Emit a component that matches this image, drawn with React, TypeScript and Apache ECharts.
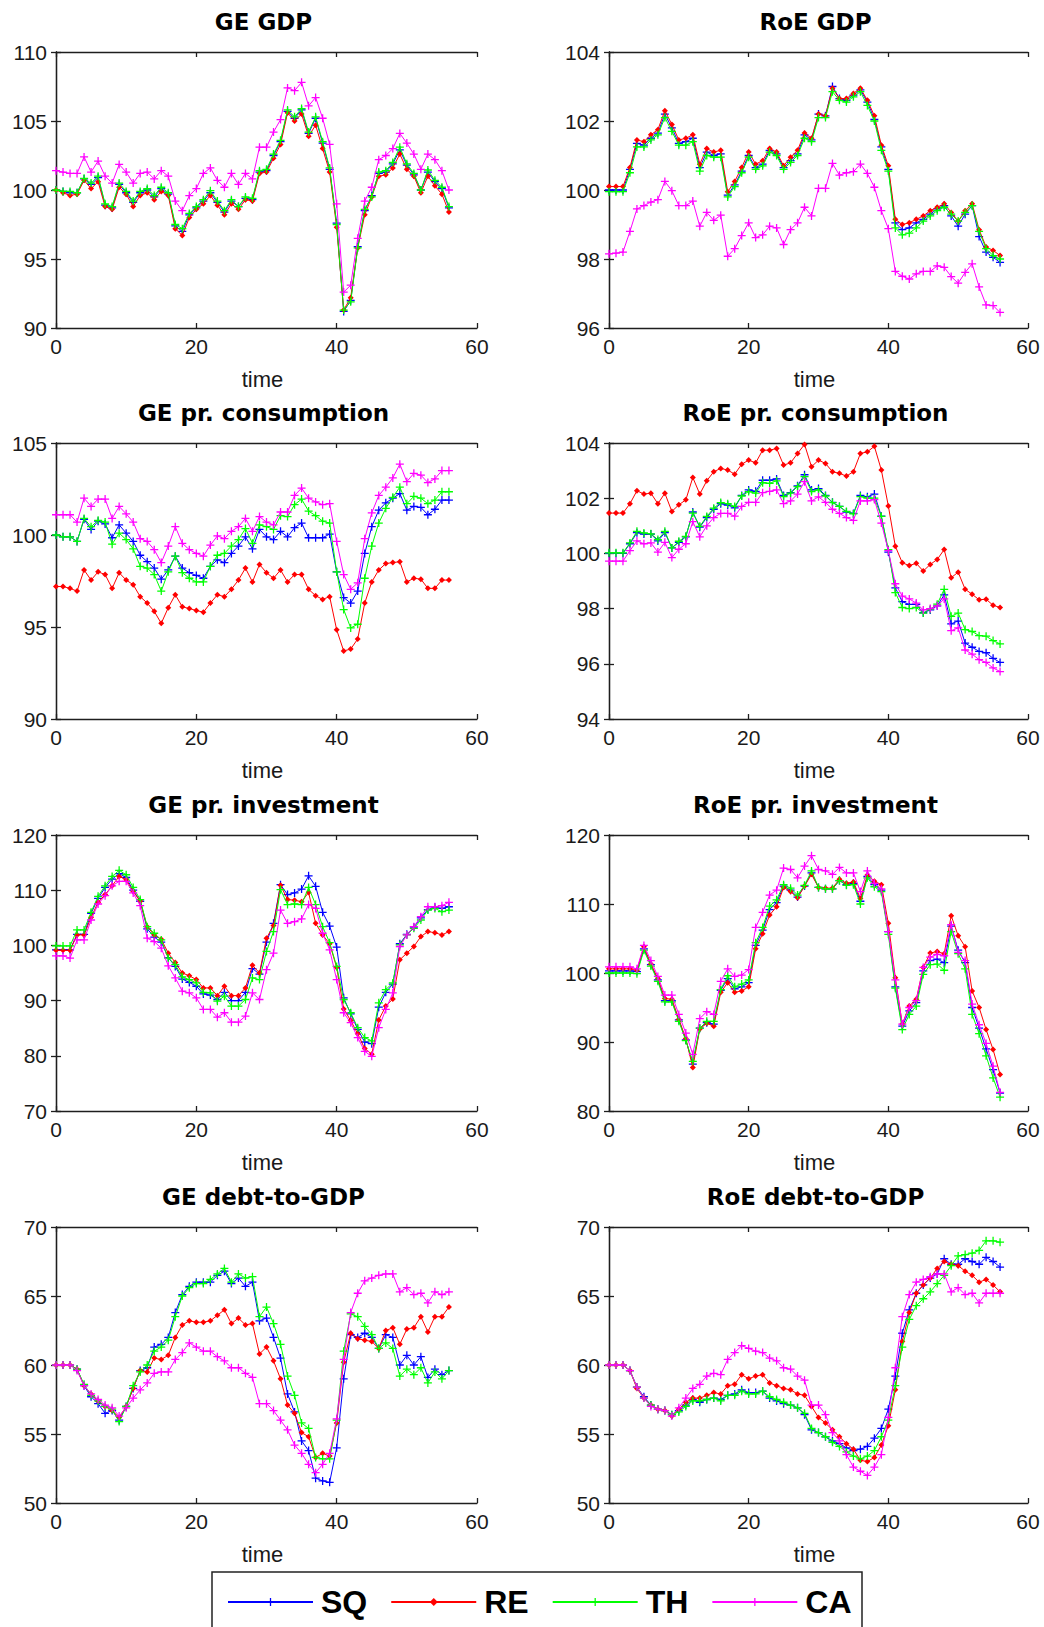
import React, { useEffect, useRef } from 'react';
import * as echarts from 'echarts';

// ---------- data ----------
const seriesNames = ['SQ', 'RE', 'TH', 'CA'];
const seriesColors = ['#0000ff', '#ff0000', '#00ff00', '#ff00ff'];
const xTickMin = 0;
const xTickMax = 60;
const xTickStep = 20;

const geGdpSQ = [100.0, 99.9, 99.8, 99.8, 100.8, 100.4, 100.9, 98.9, 98.7, 100.4, 99.8, 99.1, 99.8, 100.0, 99.5, 100.1, 99.7, 97.4, 97.0, 98.2, 98.7, 99.2, 99.8, 99.1, 98.4, 99.2, 98.8, 99.4, 99.3, 101.3, 101.4, 102.5, 103.5, 105.7, 105.2, 105.8, 104.1, 105.2, 103.4, 101.5, 97.6, 91.2, 92.0, 95.9, 98.5, 99.6, 101.2, 101.3, 101.9, 102.9, 101.8, 101.1, 100.0, 101.3, 100.6, 100.1, 98.7];
const geGdpRE = [100.0, 99.8, 99.6, 99.7, 100.7, 100.1, 100.6, 98.8, 98.6, 100.2, 99.7, 98.8, 99.6, 99.8, 99.3, 99.9, 99.6, 97.2, 96.7, 98.0, 98.6, 99.0, 99.6, 98.9, 98.2, 99.0, 98.6, 99.3, 99.2, 101.2, 101.3, 102.3, 103.3, 105.6, 105.0, 105.5, 103.9, 104.7, 103.0, 101.3, 97.3, 91.3, 92.2, 95.8, 98.2, 99.5, 101.0, 101.1, 101.6, 102.6, 101.5, 101.0, 99.8, 101.0, 100.3, 99.7, 98.4];
const geGdpTH = [100.0, 99.9, 99.9, 99.8, 100.85, 100.5, 101.0, 99.0, 98.8, 100.5, 99.9, 99.2, 99.9, 100.1, 99.6, 100.2, 99.8, 97.5, 97.2, 98.3, 98.8, 99.3, 99.95, 99.2, 98.5, 99.3, 98.8, 99.5, 99.4, 101.4, 101.5, 102.6, 103.6, 105.8, 105.3, 105.9, 104.2, 105.3, 103.5, 101.6, 97.5, 91.3, 91.9, 95.8, 98.6, 99.5, 101.3, 101.4, 102.0, 103.1, 101.9, 101.2, 100.0, 101.45, 100.7, 100.2, 98.8];
const geGdpCA = [101.4, 101.3, 101.2, 101.2, 102.4, 101.3, 102.1, 101.0, 100.5, 101.85, 101.3, 100.5, 101.2, 101.3, 100.8, 101.4, 101.0, 99.2, 98.5, 99.6, 100.1, 101.2, 101.6, 100.7, 100.2, 101.2, 100.4, 101.2, 100.8, 103.1, 103.1, 104.2, 105.1, 107.4, 107.2, 107.8, 106.1, 106.7, 105.2, 103.3, 99.0, 92.6, 93.1, 96.5, 99.2, 100.2, 102.2, 102.5, 103.0, 104.1, 103.4, 102.6, 101.5, 102.6, 102.2, 101.4, 100.0];

const roeGdpSQ = [100.0, 100.0, 100.0, 100.6, 101.35, 101.3, 101.5, 101.65, 102.2, 101.8, 101.35, 101.4, 101.5, 100.65, 101.1, 101.0, 101.05, 99.85, 100.15, 100.55, 101.0, 100.65, 100.75, 101.15, 101.05, 100.65, 100.85, 101.05, 101.6, 101.45, 102.2, 102.15, 103.0, 102.65, 102.6, 102.75, 102.9, 102.55, 102.05, 101.25, 100.6, 99.05, 98.85, 98.9, 99.05, 99.15, 99.3, 99.45, 99.55, 99.25, 98.95, 99.3, 99.55, 98.65, 98.2, 98.05, 97.9];
const roeGdpRE = [100.1, 100.1, 100.1, 100.65, 101.45, 101.4, 101.6, 101.75, 102.3, 101.9, 101.45, 101.5, 101.6, 100.75, 101.2, 101.1, 101.15, 99.95, 100.25, 100.65, 101.1, 100.75, 100.85, 101.2, 101.1, 100.7, 100.95, 101.15, 101.65, 101.5, 102.2, 102.15, 102.95, 102.65, 102.65, 102.8, 102.95, 102.6, 102.15, 101.3, 100.7, 99.15, 99.0, 99.05, 99.15, 99.25, 99.4, 99.5, 99.6, 99.35, 99.1, 99.4, 99.6, 98.85, 98.35, 98.25, 98.1];
const roeGdpTH = [99.95, 99.95, 99.95, 100.5, 101.25, 101.25, 101.45, 101.6, 102.1, 101.7, 101.3, 101.3, 101.4, 100.55, 101.0, 100.95, 100.95, 99.8, 100.1, 100.5, 100.95, 100.6, 100.7, 101.1, 101.0, 100.6, 100.8, 101.0, 101.5, 101.4, 102.1, 102.1, 102.85, 102.6, 102.55, 102.7, 102.85, 102.45, 102.0, 101.15, 100.55, 98.9, 98.7, 98.75, 98.9, 99.1, 99.25, 99.4, 99.5, 99.3, 99.1, 99.35, 99.55, 98.8, 98.3, 98.1, 98.0];
const roeGdpCA = [98.15, 98.17, 98.2, 98.8, 99.45, 99.55, 99.65, 99.72, 100.25, 99.98, 99.55, 99.55, 99.68, 98.95, 99.35, 99.12, 99.27, 98.08, 98.3, 98.68, 99.05, 98.62, 98.7, 98.95, 98.9, 98.42, 98.85, 99.05, 99.5, 99.25, 100.05, 100.05, 100.77, 100.43, 100.5, 100.53, 100.75, 100.48, 100.08, 99.4, 98.88, 97.64, 97.5, 97.42, 97.57, 97.64, 97.64, 97.8, 97.76, 97.49, 97.3, 97.61, 97.86, 97.19, 96.67, 96.65, 96.45];

const geConsSQ = [100.0, 99.9, 99.9, 99.65, 100.85, 100.3, 100.75, 100.6, 99.85, 100.55, 100.1, 99.65, 98.9, 98.55, 98.2, 97.6, 98.1, 98.85, 98.2, 97.95, 97.8, 97.65, 98.3, 98.65, 98.5, 99.0, 99.4, 99.9, 99.25, 100.3, 99.9, 99.75, 100.2, 99.9, 100.4, 100.65, 99.85, 99.85, 99.85, 100.05, 98.0, 96.6, 96.3, 96.95, 99.0, 100.45, 101.35, 101.75, 102.0, 102.25, 101.35, 101.55, 101.5, 101.1, 101.4, 101.9, 101.9];
const geConsRE = [97.2, 97.2, 97.1, 96.95, 98.1, 97.55, 98.0, 97.85, 97.1, 97.95, 97.55, 97.3, 96.65, 96.3, 95.85, 95.2, 96.05, 96.75, 96.1, 96.0, 95.9, 95.8, 96.3, 96.75, 96.65, 97.05, 97.55, 98.2, 97.45, 98.4, 97.95, 97.65, 98.1, 97.45, 97.85, 97.85, 97.05, 96.7, 96.5, 96.65, 94.85, 93.7, 93.8, 94.35, 96.3, 97.45, 98.1, 98.45, 98.5, 98.55, 97.45, 97.65, 97.6, 97.1, 97.1, 97.55, 97.55];
const geConsTH = [100.0, 99.9, 99.9, 99.65, 100.9, 100.45, 100.8, 100.7, 99.5, 100.1, 99.75, 99.25, 98.3, 98.2, 97.85, 96.95, 98.0, 98.85, 97.95, 97.65, 97.45, 97.45, 98.3, 98.9, 99.0, 99.4, 99.75, 100.35, 99.55, 100.55, 100.45, 100.3, 101.05, 101.0, 101.65, 101.95, 101.3, 101.05, 100.75, 100.65, 98.0, 95.95, 94.95, 95.15, 97.65, 99.4, 100.65, 101.45, 102.05, 102.6, 101.7, 102.1, 102.0, 101.7, 101.9, 102.35, 102.35];
const geConsCA = [101.1, 101.1, 101.1, 100.7, 102.0, 101.55, 101.95, 101.95, 100.9, 101.55, 101.15, 100.7, 99.8, 99.65, 99.2, 98.5, 99.4, 100.45, 99.55, 99.2, 99.0, 98.85, 99.45, 99.95, 99.8, 100.2, 100.45, 100.9, 100.2, 101.0, 100.7, 100.55, 101.25, 101.25, 102.15, 102.55, 102.0, 101.8, 101.65, 101.7, 99.65, 97.85, 97.05, 97.4, 99.8, 101.2, 102.15, 102.6, 103.1, 103.85, 102.9, 103.35, 103.25, 102.85, 103.05, 103.5, 103.5];

const roeConsSQ = [100.0, 100.0, 100.0, 100.35, 100.75, 100.7, 100.7, 100.45, 100.75, 100.2, 100.4, 100.6, 101.5, 100.95, 101.3, 101.6, 101.8, 101.75, 101.65, 102.1, 102.3, 102.25, 102.65, 102.65, 102.7, 102.1, 102.2, 102.45, 102.85, 102.3, 102.35, 102.1, 101.85, 101.7, 101.5, 101.45, 102.1, 102.05, 102.15, 101.35, 100.05, 98.75, 98.25, 98.15, 98.15, 97.85, 97.95, 98.1, 98.5, 97.45, 97.55, 96.75, 96.6, 96.45, 96.4, 96.2, 96.05];
const roeConsRE = [101.46, 101.46, 101.46, 101.8, 102.27, 102.15, 102.18, 101.8, 102.18, 101.52, 101.76, 101.94, 102.75, 102.15, 102.63, 102.96, 103.08, 103.02, 102.87, 103.23, 103.38, 103.28, 103.74, 103.74, 103.8, 103.2, 103.28, 103.62, 103.95, 103.14, 103.38, 103.26, 102.96, 102.9, 102.8, 102.96, 103.62, 103.68, 103.88, 103.02, 101.72, 100.26, 99.66, 99.56, 99.64, 99.36, 99.6, 99.78, 100.14, 99.12, 99.32, 98.7, 98.52, 98.32, 98.34, 98.12, 98.04];
const roeConsTH = [100.02, 100.02, 100.02, 100.38, 100.8, 100.74, 100.71, 100.5, 100.8, 100.2, 100.44, 100.62, 101.46, 100.98, 101.34, 101.64, 101.84, 101.8, 101.7, 102.08, 102.24, 102.18, 102.56, 102.54, 102.63, 102.06, 102.18, 102.42, 102.78, 102.24, 102.3, 102.08, 101.84, 101.7, 101.52, 101.43, 102.06, 102.0, 102.0, 101.34, 100.14, 98.58, 98.04, 98.0, 98.04, 97.84, 97.98, 98.16, 98.7, 97.72, 97.84, 97.24, 97.17, 97.02, 97.0, 96.84, 96.72];
const roeConsCA = [99.72, 99.72, 99.72, 100.1, 100.45, 100.35, 100.38, 100.05, 100.4, 99.85, 100.15, 100.35, 101.15, 100.6, 101.0, 101.3, 101.45, 101.45, 101.35, 101.7, 101.85, 101.85, 102.2, 102.25, 102.3, 101.8, 101.9, 102.15, 102.6, 101.9, 102.05, 101.85, 101.6, 101.45, 101.3, 101.2, 101.9, 101.9, 101.95, 101.1, 100.1, 98.9, 98.45, 98.35, 98.2, 97.95, 98.0, 98.1, 98.35, 97.2, 97.3, 96.5, 96.35, 96.15, 96.05, 95.85, 95.72];

const geInvSQ = [99.2, 99.2, 99.2, 102.0, 102.0, 105.8, 108.5, 110.5, 112.0, 113.0, 112.3, 110.0, 108.0, 103.0, 101.5, 100.6, 97.8, 96.2, 93.9, 93.3, 92.6, 91.2, 91.0, 90.2, 91.5, 90.0, 90.0, 91.5, 95.8, 94.8, 100.6, 104.0, 111.0, 109.2, 109.5, 110.2, 112.6, 110.7, 106.0, 103.5, 99.7, 90.5, 87.6, 84.8, 82.5, 82.2, 88.8, 91.5, 93.0, 100.3, 102.0, 103.3, 105.0, 106.5, 106.9, 106.7, 107.0];
const geInvRE = [99.1, 99.1, 99.1, 101.9, 101.9, 105.1, 107.8, 109.2, 110.8, 112.5, 111.9, 109.8, 108.0, 103.4, 101.9, 101.1, 98.6, 96.9, 95.0, 94.5, 93.8, 92.3, 92.3, 90.9, 92.6, 90.9, 90.9, 92.3, 96.4, 95.0, 101.3, 103.6, 110.9, 108.3, 108.2, 107.9, 109.6, 104.0, 101.9, 100.3, 96.0, 88.5, 86.4, 84.0, 81.3, 80.3, 86.5, 89.0, 90.3, 97.4, 98.6, 99.8, 101.6, 102.5, 102.3, 101.9, 102.5];
const geInvTH = [99.9, 99.9, 99.9, 102.8, 102.8, 106.0, 108.9, 110.8, 112.5, 113.6, 112.8, 110.5, 108.3, 103.4, 102.2, 101.0, 97.7, 96.5, 94.3, 93.8, 93.2, 91.5, 91.4, 89.9, 90.8, 89.0, 89.0, 90.2, 94.1, 93.8, 98.9, 102.5, 110.1, 107.4, 107.5, 107.4, 110.5, 107.4, 103.4, 100.5, 96.2, 90.2, 87.8, 85.1, 83.3, 82.7, 89.6, 92.0, 93.2, 100.1, 101.9, 103.1, 104.6, 106.4, 106.7, 106.1, 106.4];
const geInvCA = [98.1, 98.1, 97.7, 101.0, 101.0, 104.6, 107.5, 109.0, 110.8, 111.6, 111.6, 109.5, 107.2, 101.3, 100.7, 99.5, 96.3, 94.1, 91.7, 91.4, 90.5, 88.4, 88.4, 87.0, 87.8, 86.1, 86.1, 87.2, 91.4, 90.2, 95.6, 98.6, 106.4, 104.0, 104.3, 104.8, 107.4, 106.7, 102.2, 99.2, 93.8, 87.8, 86.0, 83.3, 80.8, 79.9, 85.1, 88.4, 91.4, 99.8, 101.9, 103.4, 105.2, 107.0, 107.0, 107.2, 107.8];

const roeInvSQ = [100.3, 100.3, 100.3, 100.3, 100.2, 103.5, 101.2, 99.0, 96.0, 96.0, 93.2, 90.3, 86.8, 92.0, 92.8, 92.6, 97.5, 99.2, 97.7, 98.0, 98.6, 104.0, 106.2, 109.2, 110.2, 112.6, 112.0, 111.0, 112.6, 114.5, 112.4, 112.2, 112.2, 113.4, 112.8, 113.0, 110.4, 114.0, 112.8, 112.0, 106.0, 98.0, 92.3, 94.5, 95.7, 100.3, 101.8, 102.0, 101.5, 106.8, 103.3, 101.5, 95.0, 92.0, 89.0, 86.0, 82.6];
const roeInvRE = [100.6, 100.6, 100.6, 100.6, 100.4, 103.8, 101.3, 99.2, 96.3, 96.2, 93.3, 90.5, 86.3, 91.9, 92.7, 92.3, 97.2, 98.6, 97.2, 97.4, 98.0, 103.5, 105.7, 108.4, 109.6, 112.4, 111.8, 110.9, 112.6, 114.3, 112.4, 112.3, 112.3, 113.6, 113.0, 113.2, 110.8, 114.2, 113.3, 112.8, 107.2, 99.3, 92.6, 95.2, 96.2, 100.8, 102.9, 103.1, 102.8, 108.3, 105.4, 103.8, 97.4, 95.0, 91.8, 88.9, 85.3];
const roeInvTH = [100.0, 100.0, 100.0, 100.0, 99.9, 103.3, 101.0, 98.8, 95.8, 95.8, 93.0, 90.2, 87.2, 92.0, 93.0, 93.0, 97.6, 99.6, 98.0, 98.4, 99.0, 104.4, 106.6, 109.7, 110.6, 112.8, 112.3, 111.3, 112.7, 114.8, 112.4, 112.2, 112.2, 113.4, 112.7, 112.8, 110.0, 113.8, 112.5, 111.8, 105.6, 97.8, 91.8, 94.0, 95.2, 99.8, 101.2, 101.3, 100.4, 106.0, 102.8, 100.6, 94.0, 91.2, 88.0, 84.8, 82.0];
const roeInvCA = [100.9, 100.9, 100.9, 100.9, 100.6, 104.0, 101.8, 99.5, 96.8, 96.8, 94.0, 91.3, 88.2, 93.4, 94.4, 94.0, 98.8, 100.6, 99.5, 99.7, 100.5, 106.6, 108.8, 111.3, 112.0, 115.2, 115.0, 113.8, 115.5, 117.0, 115.0, 114.8, 114.3, 115.3, 114.5, 114.5, 111.8, 114.8, 113.0, 112.2, 106.0, 99.0, 92.6, 95.0, 96.0, 100.8, 102.3, 102.7, 102.5, 107.0, 103.0, 101.8, 95.5, 92.5, 89.8, 86.5, 82.7];

const geDebtSQ = [60.0, 60.0, 60.0, 59.7, 58.5, 57.7, 57.2, 56.5, 56.7, 56.0, 57.0, 58.3, 59.6, 59.8, 61.3, 61.5, 62.0, 63.8, 65.1, 65.7, 66.0, 66.0, 66.0, 66.5, 66.8, 65.9, 66.3, 65.7, 66.0, 63.2, 63.4, 62.0, 60.5, 57.9, 56.6, 54.5, 53.8, 51.8, 51.6, 51.5, 54.0, 59.0, 62.2, 62.0, 62.3, 62.0, 61.2, 62.2, 62.0, 60.0, 60.7, 60.0, 60.6, 59.1, 59.7, 59.3, 59.6];
const geDebtRE = [60.0, 60.0, 60.0, 59.7, 58.5, 57.9, 57.4, 57.0, 56.7, 56.2, 57.0, 58.3, 59.6, 59.5, 60.5, 60.4, 60.7, 62.0, 62.9, 63.2, 63.1, 63.1, 63.2, 63.6, 64.0, 63.0, 63.4, 62.9, 63.0, 60.8, 61.3, 60.3, 59.0, 57.1, 56.5, 55.1, 54.8, 53.3, 53.6, 53.4, 55.8, 60.2, 62.3, 61.9, 61.8, 61.7, 61.2, 62.5, 62.7, 61.5, 62.6, 62.7, 63.5, 62.4, 63.5, 63.5, 64.2];
const geDebtTH = [60.0, 60.0, 60.0, 59.7, 58.6, 57.8, 57.4, 57.0, 56.8, 55.9, 57.0, 58.5, 59.5, 60.0, 61.0, 61.3, 61.8, 63.5, 65.0, 65.6, 65.9, 65.9, 66.2, 66.6, 67.0, 66.0, 66.6, 66.3, 66.4, 63.5, 64.2, 63.0, 61.5, 59.2, 57.8, 55.8, 55.4, 53.3, 53.2, 53.2, 56.0, 61.0, 63.7, 63.5, 62.8, 62.2, 61.2, 61.6, 61.2, 59.2, 59.7, 59.3, 59.8, 58.7, 59.5, 59.0, 59.6];
const geDebtCA = [60.0, 60.0, 60.0, 59.6, 58.5, 57.9, 57.5, 57.1, 56.9, 56.3, 56.9, 57.6, 58.2, 58.7, 59.4, 59.5, 59.5, 60.4, 60.9, 61.6, 61.3, 61.0, 61.0, 60.6, 60.3, 59.8, 59.8, 59.4, 59.1, 57.2, 57.2, 56.7, 56.0, 55.3, 54.2, 53.6, 52.8, 52.2, 52.8, 53.6, 56.1, 60.4, 63.8, 65.2, 66.1, 66.3, 66.5, 66.6, 66.6, 65.3, 65.6, 65.1, 65.2, 64.5, 65.3, 65.1, 65.3];

const roeDebtSQ = [60.0, 60.0, 60.0, 59.6, 58.4, 57.7, 57.1, 56.8, 56.7, 56.4, 56.7, 57.1, 57.5, 57.3, 57.5, 57.6, 57.5, 57.8, 57.9, 58.2, 58.0, 58.0, 58.1, 57.6, 57.4, 57.2, 57.1, 56.9, 56.4, 55.3, 55.1, 54.8, 54.5, 54.3, 54.0, 53.8, 53.9, 54.1, 54.7, 55.4, 56.8, 59.2, 62.3, 64.0, 65.2, 65.8, 66.3, 66.6, 67.7, 67.3, 67.3, 67.7, 67.5, 67.3, 67.8, 67.5, 67.1];
const roeDebtRE = [60.0, 60.0, 60.0, 59.6, 58.3, 57.6, 57.1, 56.8, 56.7, 56.3, 56.8, 57.3, 57.6, 57.6, 57.8, 58.0, 57.9, 58.5, 58.6, 59.3, 59.0, 59.2, 59.3, 58.7, 58.5, 58.3, 58.2, 57.9, 57.8, 57.0, 56.2, 55.8, 55.3, 54.8, 54.3, 53.9, 53.1, 53.0, 53.3, 54.2, 55.6, 58.2, 61.7, 63.8, 65.2, 65.8, 66.3, 67.0, 67.5, 67.3, 67.2, 66.8, 66.5, 66.0, 66.2, 65.8, 65.3];
const roeDebtTH = [60.0, 60.0, 60.0, 59.6, 58.4, 57.6, 57.1, 56.8, 56.7, 56.4, 56.6, 57.0, 57.4, 57.4, 57.5, 57.6, 57.4, 57.8, 57.8, 58.1, 57.9, 57.9, 58.1, 57.7, 57.5, 57.3, 57.1, 56.9, 56.5, 55.4, 55.1, 54.8, 54.4, 54.1, 53.7, 53.4, 53.2, 53.4, 53.8, 54.8, 56.0, 58.5, 61.3, 63.3, 64.3, 64.8, 65.3, 65.9, 66.5, 67.2, 67.9, 68.0, 68.1, 68.3, 69.0, 69.0, 68.9];
const roeDebtCA = [60.0, 60.0, 60.0, 59.6, 58.4, 57.6, 57.0, 56.8, 56.7, 56.3, 56.9, 57.6, 58.3, 58.6, 59.2, 59.4, 59.3, 60.4, 60.9, 61.4, 61.2, 61.0, 60.9, 60.5, 60.3, 59.8, 59.7, 59.2, 58.9, 57.1, 57.1, 56.4, 55.1, 54.5, 53.5, 52.6, 52.3, 52.0, 52.6, 53.5, 56.2, 59.8, 63.5, 65.1, 66.0, 66.2, 66.4, 66.6, 66.6, 65.3, 65.6, 65.1, 65.2, 64.5, 65.2, 65.2, 65.2];

const panelTitles = ['GE GDP', 'RoE GDP', 'GE pr. consumption', 'RoE pr. consumption', 'GE pr. investment', 'RoE pr. investment', 'GE debt-to-GDP', 'RoE debt-to-GDP'];
const yMins = [90, 96, 90, 94, 70, 80, 50, 50];
const yMaxs = [110, 104, 105, 104, 120, 120, 70, 70];
const yIntervals = [5, 2, 5, 2, 10, 10, 5, 5];
const panelData = [
  [geGdpSQ, geGdpRE, geGdpTH, geGdpCA],
  [roeGdpSQ, roeGdpRE, roeGdpTH, roeGdpCA],
  [geConsSQ, geConsRE, geConsTH, geConsCA],
  [roeConsSQ, roeConsRE, roeConsTH, roeConsCA],
  [geInvSQ, geInvRE, geInvTH, geInvCA],
  [roeInvSQ, roeInvRE, roeInvTH, roeInvCA],
  [geDebtSQ, geDebtRE, geDebtTH, geDebtCA],
  [roeDebtSQ, roeDebtRE, roeDebtTH, roeDebtCA],
];

// ---------- layout ----------
const colLeft = [56, 609];
const colWidth = [421, 419];
const rowTop = [52, 443, 835, 1227];
const plotHeight = 276;

const PLUS = 'path://M4.2,0L5.8,0L5.8,4.2L10,4.2L10,5.8L5.8,5.8L5.8,10L4.2,10L4.2,5.8L0,5.8L0,4.2L4.2,4.2Z';
const seriesSymbols = [PLUS, 'diamond', PLUS, PLUS];
const seriesSymbolSizes = [8, 6, 8, 8];

const TICK_FONT = '"Liberation Sans", Arial, sans-serif';
const TITLE_FONT = '"DejaVu Sans", sans-serif';
const FRAME = '#1e1e1e';

export default function App() {
  const ref = useRef<HTMLDivElement>(null);

  useEffect(() => {
    if (!ref.current) return;
    const chart = echarts.init(ref.current, null, { renderer: 'svg' });

    const grids: any[] = [];
    const xAxes: any[] = [];
    const yAxes: any[] = [];
    const series: any[] = [];
    const graphics: any[] = [];

    panelTitles.forEach((title, i) => {
      const col = i % 2;
      const row = Math.floor(i / 2);
      const left = colLeft[col];
      const width = colWidth[col];
      const top = rowTop[row];
      grids.push({ left, top, width, height: plotHeight, containLabel: false });

      const axisLine = { show: true, lineStyle: { color: FRAME, width: 1.3 } };
      const axisTick = { show: true, inside: true, length: 5, lineStyle: { color: FRAME, width: 1.3 } };

      xAxes.push({
        type: 'value', gridIndex: i, position: 'bottom',
        min: xTickMin, max: xTickMax, interval: xTickStep,
        axisLine, axisTick, splitLine: { show: false },
        axisLabel: { show: true, margin: 8, color: '#1a1a1a', fontFamily: TICK_FONT, fontSize: 21 },
        name: 'time', nameLocation: 'middle', nameGap: 40,
        nameTextStyle: { color: '#1a1a1a', fontFamily: TICK_FONT, fontSize: 22, padding: [0, 8, 0, 0] },
      });
      xAxes.push({
        type: 'value', gridIndex: i, position: 'top',
        min: xTickMin, max: xTickMax, interval: xTickStep,
        axisLine, axisTick, splitLine: { show: false }, axisLabel: { show: false },
      });
      yAxes.push({
        type: 'value', gridIndex: i, position: 'left',
        min: yMins[i], max: yMaxs[i], interval: yIntervals[i],
        axisLine, axisTick, splitLine: { show: false },
        axisLabel: { show: true, margin: 9, color: '#1a1a1a', fontFamily: TICK_FONT, fontSize: 21 },
      });
      yAxes.push({
        type: 'value', gridIndex: i, position: 'right',
        min: yMins[i], max: yMaxs[i], interval: yIntervals[i],
        axisLine, axisTick, splitLine: { show: false }, axisLabel: { show: false },
      });

      panelData[i].forEach((values, s) => {
        series.push({
          type: 'line',
          name: seriesNames[s],
          xAxisIndex: 2 * i,
          yAxisIndex: 2 * i,
          data: values.map((v, t) => [t, v]),
          symbol: seriesSymbols[s],
          symbolSize: seriesSymbolSizes[s],
          showSymbol: true,
          showAllSymbol: true,
          lineStyle: { color: seriesColors[s], width: 1 },
          itemStyle: { color: seriesColors[s] },
          emphasis: { disabled: true },
          silent: true,
          z: 2 + s,
        });
      });

      graphics.push({
        type: 'text',
        x: left + width / 2 - 3,
        y: top - 30,
        style: {
          text: title,
          fill: '#000',
          font: `bold 23px ${TITLE_FONT}`,
          align: 'center',
          verticalAlign: 'middle',
          textAlign: 'center',
          textVerticalAlign: 'middle',
        },
      });
    });

    graphics.push({
      type: 'rect',
      shape: { x: 212, y: 1572, width: 650, height: 80 },
      style: { fill: 'none', stroke: '#222', lineWidth: 1.5 },
      z: 1,
    });

    const option: any = {
      animation: false,
      backgroundColor: '#ffffff',
      grid: grids,
      xAxis: xAxes,
      yAxis: yAxes,
      series,
      graphic: graphics,
      legend: {
        data: seriesNames,
        left: 227,
        top: 1586,
        padding: 0,
        orient: 'horizontal',
        itemWidth: 85,
        itemHeight: 10,
        itemGap: 23,
        selectedMode: false,
        textStyle: {
          fontFamily: TICK_FONT, fontWeight: 'bold', fontSize: 32, color: '#000',
          padding: [0, 0, 0, 3],
        },
      },
    };

    chart.setOption(option);
    return () => chart.dispose();
  }, []);

  return (
    <div
      ref={ref}
      style={{ position: 'absolute', left: 0, top: 0, width: 1044, height: 1627, background: '#fff' }}
    />
  );
}
